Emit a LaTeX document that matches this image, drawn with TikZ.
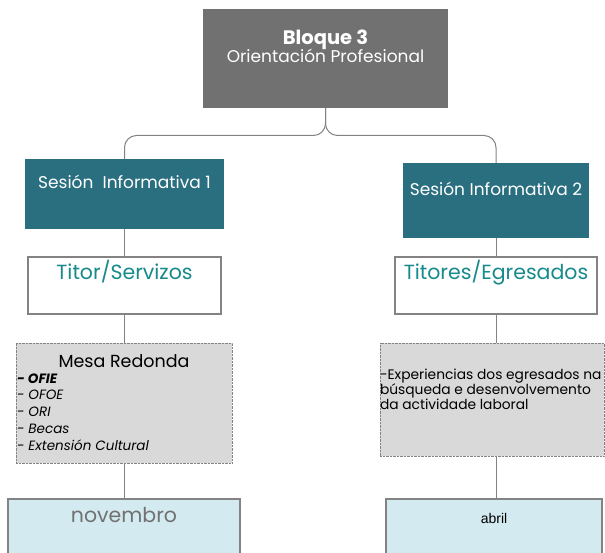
\documentclass[tikz,border=0pt]{standalone}
\usepackage{fontspec}
\setmainfont{Poppins}
\newfontfamily\arialfont{Liberation Sans}
\usepackage{tikz}
\usetikzlibrary{positioning, calc}

\definecolor{bloqueGray}{HTML}{717171}
\definecolor{sesionTeal}{HTML}{2A6F80}
\definecolor{titorTeal}{HTML}{178A8C}
\definecolor{lineGray}{HTML}{838383}
\definecolor{mesaGray}{HTML}{D9D9D9}
\definecolor{mesBlue}{HTML}{D2EAF0}

\begin{document}
\begin{tikzpicture}[x=1pt, y=-1pt,
		caja/.style={inner sep=0pt, outer sep=0pt},
		sesion/.style={caja, fill=sesionTeal},
		titor/.style={caja, draw=lineGray, line width=1.6pt, fill=white},
		mesa/.style={caja, draw=lineGray, densely dotted, fill=mesaGray},
		mes/.style={caja, draw=lineGray, line width=1.4pt, fill=mesBlue},
		texto/.style={inner sep=0pt, outer sep=0pt, anchor=base},
		conector/.style={draw=lineGray, line width=1pt}
	]
	\useasboundingbox (0,0) rectangle (605,553);
	\clip (0,0) rectangle (605,553);

	% bloque
	\node[caja, fill=bloqueGray, minimum width=245pt, minimum height=99pt] (bloque) at (325.5,58.5) {};
	\node[texto, text=white, font=\fontsize{19.5}{22}\selectfont\bfseries] (bloqueTit) at ($(bloque.north)+(0,36)$) {Bloque 3};
	\node[texto, text=white, font=\fontsize{17}{20}\selectfont] (bloqueSub) at ($(bloque.north)+(0,54)$) {Orientación Profesional};

	% sesions
	\node[sesion, minimum width=199pt, minimum height=70pt] (s1) at (124.5,194) {};
	\node[sesion, minimum width=186pt, minimum height=75pt] (s2) at (496,200.5) {};
	\node[texto, text=white, font=\fontsize{17}{20}\selectfont] (s1Txt) at ($(s1.north)+(0,30)$) {Sesión\ \ Informativa 1};
	\node[texto, text=white, font=\fontsize{17}{20}\selectfont] (s2Txt) at ($(s2.north)+(0,33)$) {Sesión Informativa 2};

	% titores
	\node[titor, minimum width=193pt, minimum height=57pt] (t1) at (124.5,285.5) {};
	\node[titor, minimum width=202pt, minimum height=57pt] (t2) at (496,285.5) {};
	\node[texto, text=titorTeal, font=\fontsize{20.5}{24}\selectfont] (t1Txt) at ($(t1.north)+(0,23)$) {Titor/Servizos};
	\node[texto, text=titorTeal, font=\fontsize{20.5}{24}\selectfont] (t2Txt) at ($(t2.north)+(0,23)$) {Titores/Egresados};

	% mesa redonda e experiencias
	\node[mesa, minimum width=216pt, minimum height=120pt] (m1) at (124,403) {};
	\node[mesa, minimum width=224pt, minimum height=113pt] (m2) at (492,399.5) {};
	\node[texto, font=\fontsize{17.5}{20}\selectfont] (m1Tit) at ($(m1.north)+(0,24)$) {Mesa Redonda};
	\foreach \linea [count=\i] in {{\bfseries - OFIE}, - OFOE, - ORI, - Becas, - Extensión Cultural}
		\node[texto, anchor=base west, font=\fontsize{13.5}{16}\selectfont\itshape] (lista\i)
			at ($(m1.north west)+(1,23.2+16.8*\i)$) {\linea};
	\foreach \linea [count=\i] in {-Experiencias dos egresados na, búsqueda e desenvolvemento, da actividade laboral}
		\node[texto, anchor=base west, font=\fontsize{13.8}{16}\selectfont] (exp\i)
			at ($(m2.north west)+(0,21+15*\i)$) {\linea};

	% meses
	\node[mes, minimum width=232pt, minimum height=80pt] (n1) at (124,539) {};
	\node[mes, minimum width=216pt, minimum height=80pt] (n2) at (494,539) {};
	\node[texto, text=bloqueGray, font=\fontsize{20.5}{24}\selectfont] (n1Txt) at ($(n1.north)+(0,23)$) {novembro};
	\node[texto, font=\arialfont\fontsize{14}{16}\selectfont] (n2Txt) at ($(n2.north)+(0,24)$) {abril};

	% conectores
	\begin{scope}[conector]
		\draw[rounded corners=12pt] (bloque.south) -- (bloque.south |- 0,135.5) -- (s1.north |- 0,135.5) -- (s1.north);
		\draw[rounded corners=12pt] (bloque.south) -- (bloque.south |- 0,135.5) -- (s2.north |- 0,135.5) -- (s2.north);
		\draw (s1.south) -- (t1.north);
		\draw (t1.south) -- (m1.north -| t1.south);
		\draw (m1.south -| t1.south) -- (n1.north -| t1.south);
		\draw (s2.south) -- (t2.north);
		\draw (t2.south) -- (m2.north -| t2.south);
		\draw (m2.south -| t2.south) -- (n2.north -| t2.south);
	\end{scope}
\end{tikzpicture}
\end{document}
